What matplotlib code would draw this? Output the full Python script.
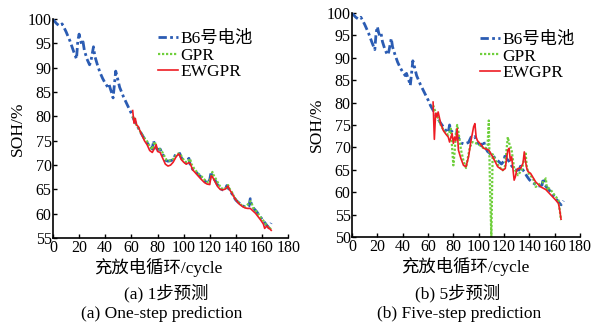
import matplotlib
matplotlib.use("Agg")
import matplotlib.pyplot as plt

plt.rcParams['font.family'] = ['Liberation Serif', 'Noto Sans CJK SC']
plt.rcParams['mathtext.fontset'] = 'stix'

# measured SOH of battery B6 (cycle, SOH %)
b6_cycle = [0, 1, 3, 5, 7, 8, 10, 13, 16, 18, 19, 20, 21, 22, 23, 24, 26, 28, 29, 30,
            31, 32, 34, 36, 38, 40, 42, 43, 44, 45, 46, 47, 48, 49, 51, 54, 57, 60, 62, 64,
            66, 68, 70, 72, 74, 76, 77, 78, 80, 82, 84, 86, 88, 90, 92, 94, 96, 97, 98, 100,
            102, 103, 104, 105, 107, 110, 113, 116, 118, 120, 121, 122, 124, 126, 128, 130, 132, 133, 134, 136,
            138, 140, 142, 144, 146, 148, 150, 151, 152, 154, 156, 158, 160, 162, 164, 165, 166, 167]
b6_soh = [100, 99.6, 99.0, 98.6, 99.0, 98.5, 97.4, 95.5, 93.2, 91.8, 95.5, 96.9, 95.6, 94.8, 95.3, 93.6, 91.8, 90.6, 91.3, 92.8,
          94.3, 92.4, 90.6, 89.0, 87.8, 86.8, 86.0, 86.5, 85.6, 84.8, 83.8, 86.5, 89.3, 88.3, 86.0, 84.0, 82.3, 80.6, 79.3, 78.3,
          77.3, 76.3, 75.4, 74.6, 73.8, 73.3, 75.0, 73.8, 73.2, 73.3, 72.2, 71.0, 70.8, 70.9, 71.1, 72.3, 72.2, 72.4, 71.6, 70.8,
          70.4, 70.9, 71.4, 70.1, 69.1, 68.4, 67.6, 66.8, 66.3, 67.0, 68.6, 67.5, 66.9, 65.9, 65.2, 64.9, 65.0, 65.8, 65.3, 64.6,
          63.6, 62.8, 62.3, 61.9, 61.5, 61.4, 61.6, 63.1, 61.7, 61.0, 60.4, 59.6, 58.9, 58.2, 57.5, 57.2, 57.6, 58.1]

# (a) one-step prediction
gpr1_cycle = [61, 62, 63, 65, 67, 70, 72, 74, 76, 77, 78, 79, 81, 83, 85, 87, 89, 91, 93, 95,
              97, 98, 99, 101, 103, 104, 105, 106, 108, 111, 114, 117, 119, 121, 122, 123, 125, 127, 129, 131,
              133, 134, 135, 137, 139, 141, 143, 145, 147, 149, 151, 152, 153, 155, 157, 159, 161, 163, 165, 166, 167]
gpr1_soh = [80.0, 79.5, 78.6, 77.8, 76.8, 75.5, 74.9, 73.9, 73.2, 74.2, 74.8, 73.6, 73.4, 73.0, 72.0, 71.0, 70.9, 71.0, 71.5, 72.3,
            72.4, 72.0, 71.5, 70.7, 70.6, 71.0, 71.3, 70.2, 69.3, 68.3, 67.6, 66.7, 66.4, 67.5, 68.6, 67.9, 67.0, 66.0, 65.2, 65.1,
            65.4, 65.9, 65.2, 64.4, 63.3, 62.6, 62.1, 61.6, 61.4, 61.9, 62.6, 62.3, 61.3, 60.7, 60.0, 59.2, 58.6, 57.8, 57.2, 56.9, 57.1]
ew1_cycle = [61, 62, 63, 64, 65, 67, 70, 72, 74, 76, 78, 79, 80, 82, 84, 86, 88, 90, 92, 94,
             96, 97, 98, 100, 102, 104, 105, 107, 110, 113, 116, 118, 120, 121, 122, 124, 126, 128, 130, 132,
             134, 135, 137, 139, 141, 143, 145, 147, 149, 151, 153, 155, 157, 159, 161, 162, 163, 164, 165, 166, 167]
ew1_soh = [81.2, 78.6, 79.6, 78.2, 78.0, 76.8, 75.0, 74.2, 73.0, 72.6, 73.6, 74.2, 72.8, 72.6, 71.4, 70.2, 69.8, 70.0, 70.6, 71.6,
           72.3, 72.0, 71.2, 70.6, 70.2, 70.5, 70.3, 69.0, 68.1, 67.2, 66.4, 66.1, 66.0, 67.8, 67.6, 66.6, 65.6, 65.0, 64.9, 65.1,
           65.7, 65.0, 64.2, 63.2, 62.5, 61.9, 61.5, 61.2, 61.1, 61.1, 60.6, 60.1, 59.4, 58.7, 57.9, 57.0, 57.3, 57.5, 57.0, 56.9, 56.6]

# (b) five-step prediction
gpr5_cycle = [64, 66, 68, 70, 72, 74, 76, 78, 79, 80, 81, 82, 83, 84, 86, 88, 90, 91, 93, 95,
              97, 99, 101, 103, 105, 107, 108, 109, 110, 111, 113, 116, 119, 121, 122, 123, 124, 126, 128, 131,
              134, 136, 137, 138, 140, 142, 143, 145, 147, 149, 151, 153, 154, 155, 157, 159, 161, 163, 164, 165]
gpr5_soh = [79.4, 77.8, 76.5, 75.0, 74.0, 73.2, 72.8, 74.2, 70.0, 66.0, 69.0, 73.0, 75.0, 73.5, 69.5, 67.0, 65.4, 67.0, 70.0, 71.2,
            71.0, 70.8, 70.5, 70.0, 69.6, 70.5, 76.0, 60.0, 50.0, 68.5, 67.3, 65.7, 64.9, 66.0, 69.5, 72.3, 71.0, 69.4, 65.3, 63.8,
            65.0, 67.5, 69.0, 65.5, 63.8, 63.4, 63.0, 61.2, 61.6, 62.0, 62.3, 63.1, 60.5, 61.0, 60.5, 59.7, 59.0, 58.2, 56.0, 53.8]
ew5_cycle = [64, 65, 66, 67, 68, 70, 72, 74, 76, 77, 79, 80, 81, 82, 83, 84, 86, 88, 90, 92,
             94, 96, 97, 98, 99, 101, 104, 108, 111, 115, 119, 121, 122, 123, 124, 125, 126, 128, 129, 130,
             131, 133, 135, 136, 137, 138, 139, 141, 145, 149, 153, 157, 161, 163, 164, 165]
ew5_soh = [80.1, 71.8, 77.6, 76.8, 77.9, 75.3, 73.8, 73.0, 72.3, 71.2, 73.1, 70.9, 72.3, 71.5, 74.2, 69.4, 67.5, 66.0, 65.7, 67.9,
           71.6, 74.6, 75.3, 72.3, 71.5, 70.9, 69.8, 69.4, 67.9, 65.7, 64.9, 65.3, 67.5, 69.4, 69.8, 67.1, 67.9, 62.7, 63.5, 64.9,
           65.3, 65.3, 66.5, 69.0, 66.8, 65.3, 64.6, 64.2, 62.3, 61.2, 60.6, 59.4, 58.2, 57.5, 56.0, 54.0]

labels = ['B6号电池', 'GPR', 'EWGPR']
blue, green, red = '#2b5cb3', '#6fcf3c', '#ee1c24'

fig = plt.figure(figsize=(6.0, 3.28), dpi=100)
ax1 = fig.add_axes([0.0883, 0.274, 0.392, 0.668])
ax2 = fig.add_axes([0.5867, 0.277, 0.38, 0.684])

panels = [
    (ax1, gpr1_cycle, gpr1_soh, ew1_cycle, ew1_soh, (55, 100), (0.447, 0.945), 0.447),
    (ax2, gpr5_cycle, gpr5_soh, ew5_cycle, ew5_soh, (50, 100), (0.561, 0.915), 0.496),
]
for ax, gc, gs, ec, es, ylim, legpos, xlab_x in panels:
    ax.plot(b6_cycle, b6_soh, color=blue, lw=2.0, ls=(0, (3.0, 1.2, 1, 1.2)), label=labels[0])
    ax.plot(gc, gs, color=green, lw=1.6, ls=(0, (1, 0.8)), label=labels[1])
    ax.plot(ec, es, color=red, lw=1.2, label=labels[2])
    ax.set_xlim(0, 180)
    ax.set_ylim(*ylim)
    ax.set_xticks(range(0, 181, 20))
    ax.set_yticks(range(ylim[0], 101, 5))
    for s in ['top', 'right']:
        ax.spines[s].set_visible(False)
    for s in ['left', 'bottom']:
        ax.spines[s].set_linewidth(1.2)
    ax.tick_params(direction='in', length=3, width=1, labelsize=11.5, pad=1)
    ax.set_ylabel('SOH/%', fontsize=12.5, labelpad=1)
    ax.set_xlabel('充放电循环/cycle', fontsize=12.5)
    ax.xaxis.set_label_coords(xlab_x, -0.09)
    ax.legend(loc='upper left', bbox_to_anchor=legpos, frameon=False, fontsize=12.5,
              borderpad=0, borderaxespad=0, handlelength=1.15, handletextpad=0.15,
              labelspacing=0.02)

fig.text(0.277, 0.107, '(a) 1步预测', ha='center', va='center', fontsize=12.5)
fig.text(0.27, 0.043, '(a) One-step prediction', ha='center', va='center', fontsize=12.5)
fig.text(0.763, 0.107, '(b) 5步预测', ha='center', va='center', fontsize=12.5)
fig.text(0.765, 0.043, '(b) Five-step prediction', ha='center', va='center', fontsize=12.5)

fig.savefig('out.png', dpi=100)
